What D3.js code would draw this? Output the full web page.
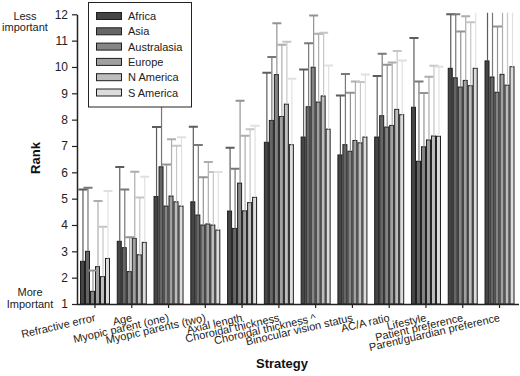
<!DOCTYPE html>
<html><head><meta charset="utf-8">
<script src="https://cdn.jsdelivr.net/npm/d3@7"></script>
<style>
body{margin:0;background:#fff;}
svg{display:block;font-family:"Liberation Sans",Arial,sans-serif;}
</style></head>
<body><svg id="c" width="520" height="376"></svg>
<script>
const categories = ["Refractive error","Age","Myopic parent (one)","Myopic parents (two)","Axial length","Choroidal thickness","Choroidal thickness ^","Binocular vision status","AC/A ratio","Lifestyle","Patient preference","Parent/guardian preference"];
const regions = ["Africa","Asia","Australasia","Europe","N America","S America"];
const yTicks = [1,2,3,4,5,6,7,8,9,10,11,12];

// mean rank per region
const africa      = [2.62, 3.38, 5.08, 4.88, 4.53, 7.14, 7.34, 6.66, 7.34, 8.47, 9.95, 10.23];
const asia        = [3.00, 3.14, 6.21, 4.38, 3.87, 7.97, 8.49, 7.05, 8.15, 6.42, 9.59, 9.62];
const australasia = [1.48, 2.23, 4.72, 4.00, 5.59, 9.71, 9.99, 6.80, 7.72, 6.97, 9.24, 9.04];
const europe      = [2.42, 3.49, 5.10, 4.04, 4.54, 8.12, 8.67, 7.21, 7.78, 7.23, 9.49, 9.72];
const nAmerica    = [2.04, 2.87, 4.88, 4.00, 4.85, 8.59, 8.90, 7.12, 8.39, 7.38, 9.29, 9.31];
const sAmerica    = [2.73, 3.34, 4.72, 3.81, 5.05, 7.05, 7.64, 7.34, 8.19, 7.37, 9.95, 10.01];

// upper end of error bars (mean + SD)
const africaHi      = [5.35, 6.20, 7.72, 7.73, 6.93, 9.78, 9.90, 8.92, 9.66, 11.10, 12.00, 12.60];
const asiaHi        = [5.41, 5.35, 9.60, 7.04, 6.14, 10.38, 10.90, 9.73, 10.50, 9.45, 12.00, 12.60];
const australasiaHi = [2.27, 3.53, 6.30, 5.81, 8.72, 11.66, 11.95, 9.02, 10.08, 9.01, 11.35, 11.54];
const europeHi      = [4.91, 6.02, 7.26, 6.39, 7.39, 10.84, 11.26, 9.45, 10.17, 9.63, 11.93, 12.60];
const nAmericaHi    = [3.93, 5.04, 7.01, 6.01, 7.64, 10.96, 11.30, 9.43, 10.61, 10.05, 11.70, 12.60];
const sAmericaHi    = [5.29, 5.83, 7.33, 6.01, 7.77, 9.55, 10.06, 9.71, 10.25, 10.01, 12.60, 12.60];

const means = [africa, asia, australasia, europe, nAmerica, sAmerica];
const highs = [africaHi, asiaHi, australasiaHi, europeHi, nAmericaHi, sAmericaHi];
const fills = ["#454545","#666666","#858585","#a0a0a0","#bdbdbd","#dcdcdc"];
const errColors = ["#5c5c5c","#787878","#939393","#adadad","#c6c6c6","#e0e0e0"];

const svg = d3.select("#c");
const y = d3.scaleLinear().domain([1,12]).range([304,14.3]);
const x0 = d3.scaleBand().domain(categories).range([76.6,517.9]);
const groupW = 30;
const x1 = d3.scaleBand().domain(regions).range([0,groupW]);
const off = (x0.bandwidth()-groupW)/2;

svg.append("defs").append("clipPath").attr("id","clip")
  .append("rect").attr("x",70).attr("y",y(12)-1.5).attr("width",460).attr("height",y(1)-y(12)+1.5);

const plot = svg.append("g").attr("clip-path","url(#clip)");
const rows = [];
categories.forEach((c,ci)=>regions.forEach((r,ri)=>rows.push({c,r,ri,v:means[ri][ci],hi:highs[ri][ci]})));

plot.selectAll("rect.bar").data(rows).join("rect").attr("class","bar")
  .attr("x",d=>x0(d.c)+off+x1(d.r)+0.5)
  .attr("y",d=>y(d.v))
  .attr("width",x1.bandwidth()-1)
  .attr("height",d=>y(1)-y(d.v))
  .attr("fill",d=>fills[d.ri]).attr("stroke","#1e1e1e").attr("stroke-width",1);

const eg = plot.selectAll("g.err").data(rows).join("g").attr("class","err");
eg.append("line")
  .attr("x1",d=>x0(d.c)+off+x1(d.r)+x1.bandwidth()/2+0.5)
  .attr("x2",d=>x0(d.c)+off+x1(d.r)+x1.bandwidth()/2+0.5)
  .attr("y1",d=>y(d.v)).attr("y2",d=>y(d.hi))
  .attr("stroke",d=>errColors[d.ri]).attr("stroke-width",1.2);
eg.append("line")
  .attr("x1",d=>x0(d.c)+off+x1(d.r)+x1.bandwidth()/2-4)
  .attr("x2",d=>x0(d.c)+off+x1(d.r)+x1.bandwidth()/2+5)
  .attr("y1",d=>y(d.hi)).attr("y2",d=>y(d.hi))
  .attr("stroke",d=>errColors[d.ri]).attr("stroke-width",2);

// y axis
const yAxis = svg.append("g").attr("transform","translate(77,0)")
  .call(d3.axisLeft(y).tickValues(yTicks).tickFormat(d3.format("d")).tickSize(5).tickSizeOuter(0).tickPadding(4));
yAxis.select(".domain").attr("stroke","#222").attr("stroke-width",1.5);
yAxis.selectAll(".tick line").attr("stroke","#222").attr("stroke-width",1.2);
yAxis.selectAll("text").attr("font-size",12).attr("fill","#222").attr("font-family","Liberation Sans, Arial, sans-serif");

// x axis
const xAxis = svg.append("g").attr("transform","translate(0,304)")
  .call(d3.axisBottom(x0).tickSize(4).tickSizeOuter(0).tickFormat(""));
xAxis.select(".domain").attr("d","M77,0.5H519").attr("stroke","#222").attr("stroke-width",1.5);
xAxis.selectAll(".tick line").attr("stroke","#222").attr("stroke-width",1.2);
xAxis.selectAll(".tick").append("text")
  .attr("transform","translate(1,17) rotate(-13)")
  .attr("text-anchor","end").attr("font-size",11).attr("fill","#222")
  .attr("font-family","Liberation Sans, Arial, sans-serif")
  .text(d=>d);

// axis titles
svg.append("text").attr("transform","translate(40,158) rotate(-90)")
  .attr("text-anchor","middle").attr("font-weight","bold").attr("font-size",13).attr("fill","#111").text("Rank");
svg.append("text").attr("x",282).attr("y",368)
  .attr("text-anchor","middle").attr("font-weight","bold").attr("font-size",13).attr("fill","#111").text("Strategy");

// importance labels
const imp = [["Less",25,20],["important",25,31],["More",30,296],["Important",30,308]];
svg.selectAll("text.imp").data(imp).join("text").attr("class","imp")
  .attr("x",d=>d[1]).attr("y",d=>d[2]).attr("text-anchor","middle")
  .attr("font-size",11).attr("fill","#222").text(d=>d[0]);

// legend
const lg = svg.append("g");
lg.append("rect").attr("x",88.5).attr("y",2.5).attr("width",103).attr("height",104.5)
  .attr("fill","#fff").attr("stroke","#222").attr("stroke-width",1);
const li = lg.selectAll("g.li").data(regions).join("g").attr("class","li")
  .attr("transform",(d,i)=>`translate(0,${16+i*15.3})`);
li.append("rect").attr("x",96.5).attr("y",-3.5).attr("width",25).attr("height",7)
  .attr("fill",(d,i)=>fills[i]).attr("stroke","#1e1e1e").attr("stroke-width",1);
li.append("text").attr("x",128).attr("y",4).attr("font-size",11).attr("fill","#222").text(d=>d);
</script></body></html>
